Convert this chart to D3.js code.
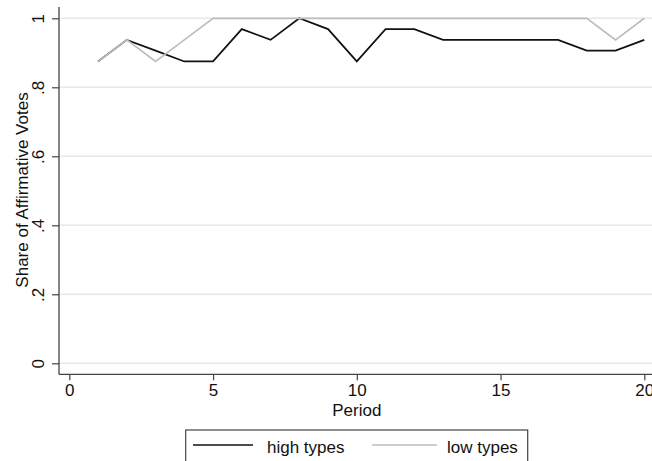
<!DOCTYPE html>
<html>
<head>
<meta charset="utf-8">
<script src="https://cdn.jsdelivr.net/npm/d3@7"></script>
<style>
  html, body { margin: 0; padding: 0; background: #fff; }
  svg { display: block; font-family: "Liberation Sans", Arial, sans-serif; }
</style>
</head>
<body>
<svg id="chart" width="652" height="461"></svg>
<script>
// Periods of the voting experiment
const periods = [1, 2, 3, 4, 5, 6, 7, 8, 9, 10, 11, 12, 13, 14, 15, 16, 17, 18, 19, 20];
// Share of affirmative votes by voter type
const highTypes = [0.875, 0.9375, 0.90625, 0.875, 0.875, 0.96875, 0.9375, 1, 0.96875, 0.875,
                   0.96875, 0.96875, 0.9375, 0.9375, 0.9375, 0.9375, 0.9375, 0.90625, 0.90625, 0.9375];
const lowTypes  = [0.875, 0.9375, 0.875, 0.9375, 1, 1, 1, 1, 1, 1,
                   1, 1, 1, 1, 1, 1, 1, 1, 0.9375, 1];
// Axis ticks and labels
const xTicks = [0, 5, 10, 15, 20];
const yTicks = [0, 0.2, 0.4, 0.6, 0.8, 1];
const yTickLabels = ["0", ".2", ".4", ".6", ".8", "1"];
const seriesNames = ["high types", "low types"];

const svg = d3.select("#chart");
const W = 652, H = 461;
const plotLeft = 59, plotBottom = 374.3, plotTop = 7;

const x = d3.scaleLinear().domain([0, 20]).range([69.3, 644.3]);
const y = d3.scaleLinear().domain([0, 1]).range([363.3, 18.3]);

// horizontal gridlines
svg.append("g").selectAll("line").data(yTicks).join("line")
  .attr("x1", plotLeft).attr("x2", W)
  .attr("y1", d => y(d)).attr("y2", d => y(d))
  .attr("stroke", "#e8e8e8").attr("stroke-width", 1.5);

// x axis
const xAxis = d3.axisBottom(x).tickValues(xTicks).tickSize(6).tickPadding(5)
  .tickFormat(d3.format("d"));
const gx = svg.append("g").attr("transform", `translate(0,${plotBottom})`).call(xAxis);
gx.select(".domain").remove();
gx.selectAll(".tick line").attr("stroke", "#444").attr("stroke-width", 1.2);
gx.selectAll(".tick text").attr("font-size", 17).attr("fill", "#111")
  .attr("font-family", "'Liberation Sans', Arial, sans-serif")
  .attr("dy", null).attr("y", 22);
svg.append("line").attr("x1", plotLeft).attr("x2", W).attr("y1", plotBottom).attr("y2", plotBottom)
  .attr("stroke", "#444").attr("stroke-width", 1.3);

// y axis
const yAxis = d3.axisLeft(y).tickValues(yTicks).tickSize(7)
  .tickFormat((d, i) => yTickLabels[i]);
const gy = svg.append("g").attr("transform", `translate(${plotLeft},0)`).call(yAxis);
gy.select(".domain").remove();
gy.selectAll(".tick line").attr("stroke", "#444").attr("stroke-width", 1.2);
gy.selectAll(".tick text")
  .attr("font-size", 17).attr("fill", "#111")
  .attr("font-family", "'Liberation Sans', Arial, sans-serif")
  .attr("x", null).attr("dy", null)
  .attr("text-anchor", "middle")
  .attr("transform", "translate(-15,0) rotate(-90)");
svg.append("line").attr("x1", plotLeft).attr("x2", plotLeft).attr("y1", plotTop).attr("y2", plotBottom)
  .attr("stroke", "#444").attr("stroke-width", 1.3);

// axis titles
svg.append("text").attr("x", x(10)).attr("y", 416)
  .attr("text-anchor", "middle").attr("font-size", 17).attr("fill", "#111")
  .text("Period");
svg.append("text")
  .attr("transform", "translate(27.5,190) rotate(-90)")
  .attr("text-anchor", "middle").attr("font-size", 17).attr("fill", "#111")
  .text("Share of Affirmative Votes");

// series lines
const line = d3.line().x((d, i) => x(periods[i])).y(d => y(d));
svg.append("path").datum(highTypes).attr("d", line)
  .attr("fill", "none").attr("stroke", "#111").attr("stroke-width", 1.7)
  .attr("stroke-linejoin", "miter");
svg.append("path").datum(lowTypes).attr("d", line)
  .attr("fill", "none").attr("stroke", "#bdbdbd").attr("stroke-width", 1.7)
  .attr("stroke-linejoin", "miter");

// legend
const lg = svg.append("g");
lg.append("rect").attr("x", 185.7).attr("y", 430).attr("width", 342).attr("height", 45)
  .attr("fill", "#fff").attr("stroke", "#444").attr("stroke-width", 1.2);
const legendItems = [
  { name: seriesNames[0], color: "#111", x1: 193, x2: 253, tx: 267 },
  { name: seriesNames[1], color: "#bdbdbd", x1: 372, x2: 437, tx: 447 }
];
legendItems.forEach(it => {
  lg.append("line").attr("x1", it.x1).attr("x2", it.x2).attr("y1", 445).attr("y2", 445)
    .attr("stroke", it.color).attr("stroke-width", 1.7);
  lg.append("text").attr("x", it.tx).attr("y", 452.5)
    .attr("font-size", 17).attr("fill", "#111").text(it.name);
});
</script>
</body>
</html>
